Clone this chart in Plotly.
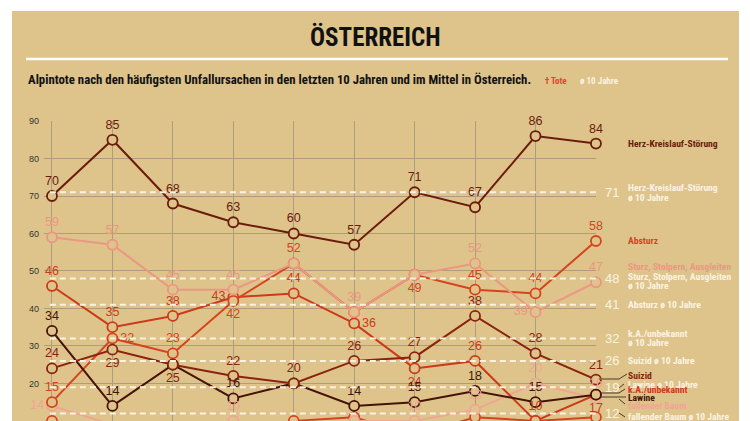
import plotly.graph_objects as go

# Jahre (Achsenbeschriftung im Bild abgeschnitten)
years = list(range(2009, 2019))

# Alpintote pro Jahr
herz = [70, 85, 68, 63, 60, 57, 71, 67, 86, 84]
absturz = [15, 32, 28, 42, 52, 39, 49, 45, 44, 58]
sturz = [59, 57, 45, 45, 52, 39, 49, 52, 39, 47]
unbekannt = [46, 35, 38, 43, 44, 36, 24, 26, 10, 17]
suizid = [24, 29, 25, 22, 20, 26, 27, 38, 28, 21]
lawine = [34, 14, 25, 16, 20, 14, 15, 18, 15, 17]
baum = [14, 9, 7, 10, 7, 10, 10, 13, 20, 16]
sonstige = [10, 6, 8, 5, 10, 11, 6, 11, 10, 11]   # Legende unten abgeschnitten

# Mittelwerte 10 Jahre
avg_values = [71, 48, 41, 32, 26, 19, 12]
avg_line1 = ["Herz-Kreislauf-Störung", "Sturz, Stolpern, Ausgleiten", "Absturz ø 10 Jahre",
             "k.A./unbekannt", "Suizid ø 10 Jahre", "Lawine ø 10 Jahre",
             "fallender Baum ø 10 Jahre"]
avg_line2 = ["ø 10 Jahre", "ø 10 Jahre", "", "ø 10 Jahre", "", "", ""]

title = "ÖSTERREICH"
subtitle = "Alpintote nach den häufigsten Unfallursachen in den letzten 10 Jahren und im Mittel in Österreich."

BG = "#dec48b"
GRID = "#ad9d7c"
AVG = "#fbf3e2"
NARROW = "Liberation Sans Narrow, Arial Narrow, Roboto Condensed, sans-serif"
SANS = "Liberation Sans, Arial, sans-serif"

C_HERZ = "#6b1b0b"
C_ABST = "#d5431f"
C_STURZ = "#ec9684"
C_UNB = "#cc3a1b"
C_SUI = "#8a220f"
C_LAW = "#451206"
C_BAUM = "#f0a594"

W, H = 750, 421
L, R, T, B = 44, 154, 121, 0
PXU = (H - T - B) / (90.01 - 9.97)   # Pixel pro Einheit auf der y-Achse


def px(x):
    return (x - L) / (W - L - R)


def py(y):
    return (H - B - y) / (H - T - B)


T_, B_, LF, RT, TR, N = "top center", "bottom center", "middle left", "middle right", "top right", None

# (werte, farbe, label-positionen) in Zeichenreihenfolge
series = [
    (sonstige, C_ABST, [N, N, T_, N, N, N, N, N, N, N]),
    (baum, C_BAUM, [LF, TR, N, T_, N, N, T_, T_, T_, T_]),
    (unbekannt, C_UNB, [T_, T_, T_, LF, T_, RT, B_, T_, T_, B_]),
    (absturz, C_ABST, [T_, RT, T_, B_, T_, N, B_, T_, T_, T_]),
    (sturz, C_STURZ, [T_, T_, T_, T_, N, T_, N, T_, LF, T_]),
    (lawine, C_LAW, [T_, T_, N, T_, N, T_, T_, T_, T_, N]),
    (suizid, C_SUI, [T_, B_, B_, T_, T_, T_, T_, T_, T_, T_]),
    (herz, C_HERZ, [T_] * 10),
]

fig = go.Figure()

for vals, col, pos in series:
    fig.add_trace(go.Scatter(
        x=years, y=vals, mode="lines+markers",
        line=dict(color=col, width=2),
        marker=dict(size=10, color=BG, line=dict(color=col, width=1.8)),
        cliponaxis=False, hoverinfo="skip",
    ))

for vals, col, pos in series:
    fig.add_trace(go.Scatter(
        x=years, y=vals, mode="markers+text",
        text=[str(v) if p else "" for v, p in zip(vals, pos)],
        textposition=[p or "top center" for p in pos],
        textfont=dict(family=SANS, size=12.5, color=col),
        marker=dict(size=11, color="rgba(0,0,0,0)"),
        cliponaxis=False, hoverinfo="skip",
    ))

shapes = [
    dict(type="rect", xref="paper", yref="paper", layer="below",
         x0=px(12), x1=px(739), y0=py(430), y1=py(11),
         fillcolor=BG, line=dict(width=0)),
    dict(type="line", xref="paper", yref="paper",
         x0=px(26), x1=px(728), y0=py(59), y1=py(59),
         line=dict(color="white", width=2.5)),
]
for v in avg_values:
    shapes.append(dict(type="line", xref="x", yref="y",
                       x0=years[0] - 0.035, x1=years[-1], y0=v, y1=v,
                       line=dict(color=AVG, width=2, dash="6px,4px")))

# Führungslinien rechts unten
leaders = [
    [(599, 379), (619, 379), (627, 374)],
    [(619, 388), (624, 384)],
    [(601, 393), (619, 393), (625, 389)],
    [(601, 397), (626, 397)],
    [(619, 399), (625, 404)],
    [(619, 413), (625, 417)],
]
for pts in leaders:
    for (xa, ya), (xb, yb) in zip(pts[:-1], pts[1:]):
        shapes.append(dict(type="line", xref="paper", yref="paper",
                           x0=px(xa), x1=px(xb), y0=py(ya), y1=py(yb),
                           line=dict(color="#4a3a2c", width=1)))

annotations = [
    dict(text=title, x=px(375), y=py(37), xref="paper", yref="paper",
         showarrow=False, xanchor="center", yanchor="middle",
         font=dict(family=NARROW, size=25, color="#111111", weight="bold")),
    dict(text=subtitle, x=px(26), y=py(80), xref="paper", yref="paper",
         showarrow=False, xanchor="left", yanchor="middle",
         font=dict(family=NARROW, size=12.8, color="#111111", weight="bold")),
    dict(text="† Tote", x=px(543), y=py(81), xref="paper", yref="paper",
         showarrow=False, xanchor="left", yanchor="middle",
         font=dict(family=NARROW, size=9, color="#e2452b", weight="bold")),
    dict(text="ø 10 Jahre", x=px(578), y=py(81), xref="paper", yref="paper",
         showarrow=False, xanchor="left", yanchor="middle",
         font=dict(family=NARROW, size=9, color="#fbf3e2", weight="bold")),
]

LEG = 9.6
# Versatz (px) der beiden Zeilen gegenüber dem Mittelwert
line_shift = [(-4.5, 5), (-1.5, 7.5), (0, 0), (-5, 4), (0, 0), (-3, 0), (3, 0)]
for v, l1, l2, (d1, d2) in zip(avg_values, avg_line1, avg_line2, line_shift):
    annotations.append(dict(text=str(v), x=px(612), y=v, xref="paper", yref="y",
                            showarrow=False, xanchor="center", yanchor="middle",
                            font=dict(family=SANS, size=13, color=AVG)))
    for txt, d in ((l1, d1), (l2, d2)):
        if txt:
            annotations.append(dict(text=txt, x=px(626), y=v - d / PXU, xref="paper", yref="y",
                                    showarrow=False, xanchor="left", yanchor="middle",
                                    font=dict(family=NARROW, size=LEG, color=AVG, weight="bold")))

end_labels = [("Herz-Kreislauf-Störung", 143, C_HERZ),
              ("Absturz", 240, C_ABST),
              ("Sturz, Stolpern, Ausgleiten", 266, C_STURZ),
              ("Suizid", 375, C_SUI),
              ("k.A./unbekannt", 389, C_UNB),
              ("Lawine", 397, C_LAW),
              ("fallender Baum", 405, C_BAUM)]
for lab, yy, col in end_labels:
    annotations.append(dict(text=lab, x=px(626), y=py(yy), xref="paper", yref="paper",
                            showarrow=False, xanchor="left", yanchor="middle",
                            font=dict(family=NARROW, size=LEG, color=col, weight="bold")))

fig.update_layout(
    width=W, height=H,
    margin=dict(l=L, r=R, t=T, b=B),
    paper_bgcolor="white", plot_bgcolor=BG,
    showlegend=False,
    shapes=shapes, annotations=annotations,
    xaxis=dict(range=[years[0] - 0.132, years[-1] + 0.001], dtick=1,
               showgrid=True, gridcolor=GRID, gridwidth=1,
               zeroline=False, showticklabels=False, showline=False),
    yaxis=dict(range=[9.97, 90.01], dtick=10, tick0=0,
               showgrid=True, gridcolor=GRID, gridwidth=1,
               zeroline=False, showline=False,
               ticklabelstandoff=4,
               tickfont=dict(family=SANS, size=9, color="#333333")),
)

# Seitenrand des Browsers entfernen, damit die Grafik bei 0,0 beginnt
fig.write_html("out.html", config={"displayModeBar": False},
               post_script="document.body.style.margin='0';")
